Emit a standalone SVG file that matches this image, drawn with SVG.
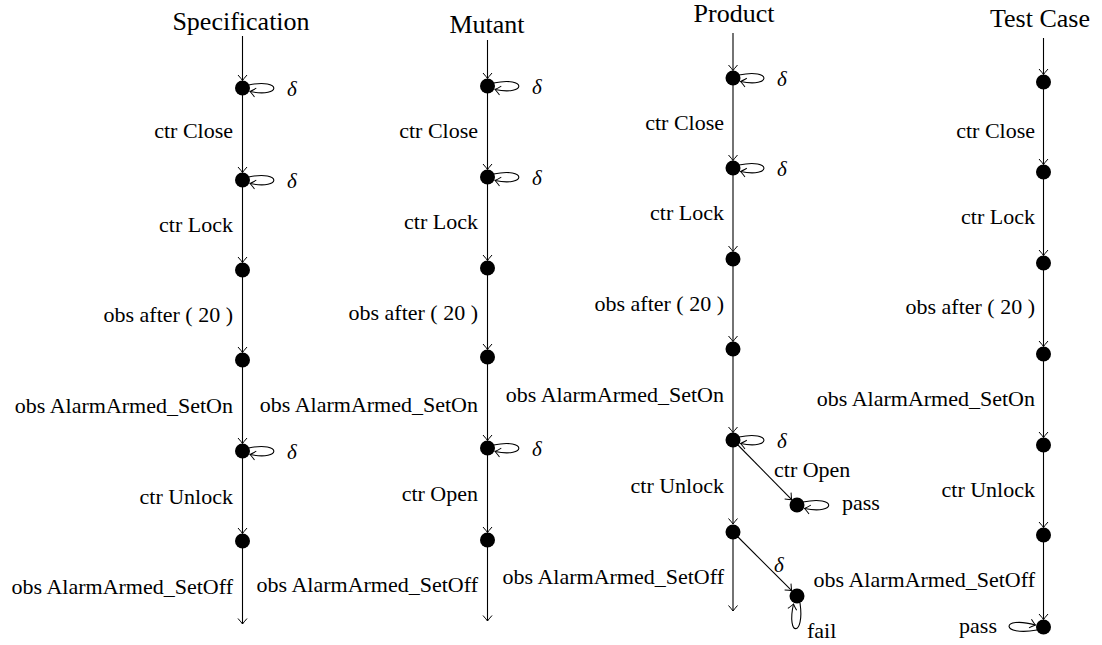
<svg xmlns="http://www.w3.org/2000/svg" width="1102" height="645" viewBox="0 0 1102 645">
  <style>
    .title { font-family: "Liberation Serif", "Times New Roman", serif; font-size: 26px; text-anchor: middle; fill: #000; }
    .lbl { font-family: "Liberation Serif", "Times New Roman", serif; font-size: 22px; text-anchor: end; fill: #000; }
    .lbs { font-family: "Liberation Serif", "Times New Roman", serif; font-size: 22px; fill: #000; }
    .dl { font-family: "Liberation Serif", "Times New Roman", serif; font-size: 21px; font-style: italic; fill: #000; }
    .e { fill: none; stroke: #000; stroke-width: 1.1; marker-end: url(#arr); }
    .st { fill: #000; }
  </style>
  <defs>
    <marker id="arr" viewBox="-7 -6 9 12" refX="0" refY="0" markerWidth="9" markerHeight="12" markerUnits="userSpaceOnUse" orient="auto">
      <path d="M-5.5,-4.5 Q-1.5,-1 0,0 Q-1.5,1 -5.5,4.5" fill="none" stroke="#000" stroke-width="1"/>
    </marker>
  </defs>

  <!-- column titles -->
  <g id="titles">
    <text class="title" x="241" y="30">Specification</text>
    <text class="title" x="487" y="33">Mutant</text>
    <text class="title" x="734" y="22">Product</text>
    <text class="title" x="1040" y="27">Test Case</text>
  </g>

  <!-- all transitions -->
  <g id="connectors">
    <!-- Specification -->
    <path class="e" d="M242.5,36 V80.5"/>
    <path class="e" d="M242.5,88 V172.5"/>
    <path class="e" d="M242.5,180 V262.5"/>
    <path class="e" d="M242.5,270 V352.5"/>
    <path class="e" d="M242.5,360 V443.5"/>
    <path class="e" d="M242.5,451 V533.5"/>
    <path class="e" d="M242.5,541 V624"/>
    <path class="e" d="M248.5,85 C282,78 282,98 250,91.5"/>
    <path class="e" d="M248.5,177 C282,170 282,190 250,183.5"/>
    <path class="e" d="M248.5,448 C282,441 282,461 250,454.5"/>
    <!-- Mutant -->
    <path class="e" d="M487.5,40 V78.5"/>
    <path class="e" d="M487.5,86 V169.5"/>
    <path class="e" d="M487.5,177 V260.5"/>
    <path class="e" d="M487.5,268 V349.5"/>
    <path class="e" d="M487.5,357 V440.5"/>
    <path class="e" d="M487.5,448 V532.5"/>
    <path class="e" d="M487.5,540 V621"/>
    <path class="e" d="M493.5,83 C527,76 527,96 495,89.5"/>
    <path class="e" d="M493.5,174 C527,167 527,187 495,180.5"/>
    <path class="e" d="M493.5,445 C527,438 527,458 495,451.5"/>
    <!-- Product -->
    <path class="e" d="M733,33 V70.5"/>
    <path class="e" d="M733,78 V160.5"/>
    <path class="e" d="M733,168 V251.5"/>
    <path class="e" d="M733,259 V341.5"/>
    <path class="e" d="M733,349 V432.5"/>
    <path class="e" d="M733,440 V524"/>
    <path class="e" d="M733,532 V611"/>
    <path class="e" d="M739,75 C772,68 772,88 740.5,81.5"/>
    <path class="e" d="M739,165 C772,158 772,178 740.5,171.5"/>
    <path class="e" d="M739,437 C772,430 772,450 740.5,443.5"/>
    <path class="e" d="M733,440 L791.7,499.7"/>
    <path class="e" d="M733,532 L791.7,590.7"/>
    <path class="e" d="M803,502 C837,495 837,515 804.5,508.5"/>
    <path class="e" d="M800,603 C805,637 786,637 793.5,604"/>
    <!-- Test Case -->
    <path class="e" d="M1043.5,38 V74.5"/>
    <path class="e" d="M1043.5,82 V164.5"/>
    <path class="e" d="M1043.5,172 V255.5"/>
    <path class="e" d="M1043.5,263 V346.5"/>
    <path class="e" d="M1043.5,354 V437.5"/>
    <path class="e" d="M1043.5,445 V527.5"/>
    <path class="e" d="M1043.5,535 V619.5"/>
    <path class="e" d="M1037,630 C1000,637 1000,615 1035.5,625"/>
  </g>

  <!-- Specification states -->
  <g id="spec">
    <circle class="st" cx="242.5" cy="88" r="7.5"/>
    <circle class="st" cx="242.5" cy="180" r="7.5"/>
    <circle class="st" cx="242.5" cy="270" r="7.5"/>
    <circle class="st" cx="242.5" cy="360" r="7.5"/>
    <circle class="st" cx="242.5" cy="451" r="7.5"/>
    <circle class="st" cx="242.5" cy="541" r="7.5"/>
    <text class="dl" x="287" y="96">δ</text>
    <text class="dl" x="287" y="188">δ</text>
    <text class="dl" x="287" y="459">δ</text>
    <text class="lbl" x="233" y="138">ctr Close</text>
    <text class="lbl" x="233" y="232">ctr Lock</text>
    <text class="lbl" x="233" y="322">obs after ( 20 )</text>
    <text class="lbl" x="233" y="413">obs AlarmArmed_SetOn</text>
    <text class="lbl" x="233" y="504">ctr Unlock</text>
    <text class="lbl" x="233" y="594">obs AlarmArmed_SetOff</text>
  </g>

  <!-- Mutant states -->
  <g id="mutant">
    <circle class="st" cx="487.5" cy="86" r="7.5"/>
    <circle class="st" cx="487.5" cy="177" r="7.5"/>
    <circle class="st" cx="487.5" cy="268" r="7.5"/>
    <circle class="st" cx="487.5" cy="357" r="7.5"/>
    <circle class="st" cx="487.5" cy="448" r="7.5"/>
    <circle class="st" cx="487.5" cy="540" r="7.5"/>
    <text class="dl" x="532" y="94">δ</text>
    <text class="dl" x="532" y="185">δ</text>
    <text class="dl" x="532" y="456">δ</text>
    <text class="lbl" x="478" y="138">ctr Close</text>
    <text class="lbl" x="478" y="229">ctr Lock</text>
    <text class="lbl" x="478" y="320">obs after ( 20 )</text>
    <text class="lbl" x="478" y="412">obs AlarmArmed_SetOn</text>
    <text class="lbl" x="478" y="501">ctr Open</text>
    <text class="lbl" x="478" y="592">obs AlarmArmed_SetOff</text>
  </g>

  <!-- Product states -->
  <g id="product">
    <circle class="st" cx="733" cy="78" r="7.5"/>
    <circle class="st" cx="733" cy="168" r="7.5"/>
    <circle class="st" cx="733" cy="259" r="7.5"/>
    <circle class="st" cx="733" cy="349" r="7.5"/>
    <circle class="st" cx="733" cy="440" r="7.5"/>
    <circle class="st" cx="733" cy="532" r="7.5"/>
    <circle class="st" cx="797" cy="505" r="7.5"/>
    <circle class="st" cx="797" cy="596" r="7.5"/>
    <text class="dl" x="777" y="86">δ</text>
    <text class="dl" x="777" y="176">δ</text>
    <text class="dl" x="777" y="448">δ</text>
    <text class="dl" x="774" y="572">δ</text>
    <text class="lbl" x="724" y="130">ctr Close</text>
    <text class="lbl" x="724" y="220">ctr Lock</text>
    <text class="lbl" x="724" y="311">obs after ( 20 )</text>
    <text class="lbl" x="724" y="402">obs AlarmArmed_SetOn</text>
    <text class="lbl" x="724" y="493">ctr Unlock</text>
    <text class="lbl" x="724" y="584">obs AlarmArmed_SetOff</text>
    <text class="lbs" x="774" y="477">ctr Open</text>
    <text class="lbs" x="842" y="510">pass</text>
    <text class="lbs" x="807" y="638">fail</text>
  </g>

  <!-- Test Case states -->
  <g id="testcase">
    <circle class="st" cx="1043.5" cy="82" r="7.5"/>
    <circle class="st" cx="1043.5" cy="172" r="7.5"/>
    <circle class="st" cx="1043.5" cy="263" r="7.5"/>
    <circle class="st" cx="1043.5" cy="354" r="7.5"/>
    <circle class="st" cx="1043.5" cy="445" r="7.5"/>
    <circle class="st" cx="1043.5" cy="535" r="7.5"/>
    <circle class="st" cx="1043.5" cy="627" r="7.5"/>
    <text class="lbl" x="1035" y="138">ctr Close</text>
    <text class="lbl" x="1035" y="224">ctr Lock</text>
    <text class="lbl" x="1035" y="314">obs after ( 20 )</text>
    <text class="lbl" x="1035" y="406">obs AlarmArmed_SetOn</text>
    <text class="lbl" x="1035" y="497">ctr Unlock</text>
    <text class="lbl" x="1035" y="587">obs AlarmArmed_SetOff</text>
    <text class="lbl" x="997" y="633">pass</text>
  </g>
</svg>
